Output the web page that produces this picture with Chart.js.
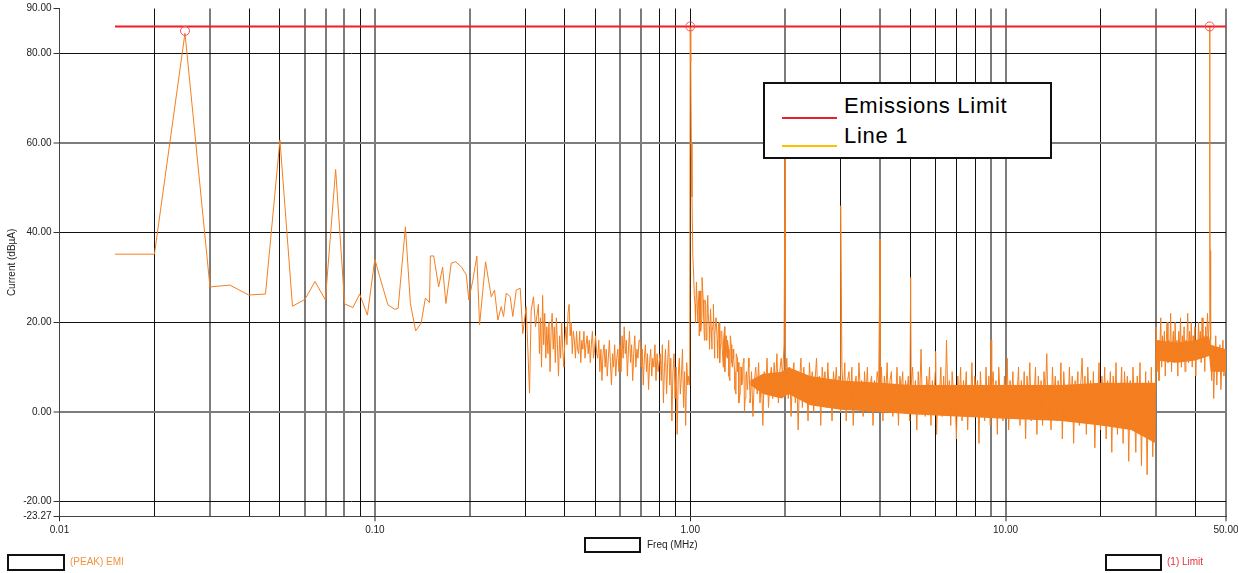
<!DOCTYPE html>
<html>
<head>
<meta charset="utf-8">
<script src="https://cdn.jsdelivr.net/npm/chart.js@4.4.1/dist/chart.umd.min.js"></script>
<style>
  html, body { margin:0; padding:0; background:#fff; }
  #wrap { position:relative; width:1238px; height:573px; overflow:hidden; }
  #c { position:absolute; left:0; top:0; }
  .box { position:absolute; box-sizing:border-box; border:2px solid #111; background:#fff; }
  .lbl { position:absolute; font-family:"Liberation Sans", Arial, sans-serif; font-size:10px; line-height:16px; height:16px; white-space:nowrap; }
  .lg { position:absolute; font-family:"Liberation Sans", Arial, sans-serif; font-size:22px; line-height:22px; letter-spacing:0.7px; color:#000; white-space:nowrap; }
</style>
</head>
<body>
<div id="wrap">
  <canvas id="c" width="1238" height="573"></canvas>

  <div class="box" style="left:763px;top:82px;width:289px;height:77px;"></div>
  <div style="position:absolute;left:782px;top:117px;width:55px;height:2px;background:#E8202A;"></div>
  <div style="position:absolute;left:782px;top:145px;width:55px;height:2px;background:#FFC000;"></div>
  <div class="lg" style="left:844px;top:95px;">Emissions Limit</div>
  <div class="lg" style="left:844px;top:125px;">Line 1</div>

  <div class="box" style="left:7px;top:554px;width:58px;height:17px;"></div>
  <div class="lbl" style="left:70px;top:554px;color:#F4923A;">(PEAK) EMI</div>
  <div class="box" style="left:584px;top:537px;width:57px;height:16px;"></div>
  <div class="lbl" style="left:647px;top:537px;color:#222;">Freq (MHz)</div>
  <div class="box" style="left:1105px;top:554px;width:57px;height:17px;"></div>
  <div class="lbl" style="left:1167px;top:554px;color:#E8303A;">(1) Limit</div>
</div>
<script>
// ---------------- data ----------------
const xTickValues = [0.01,0.02,0.03,0.04,0.05,0.06,0.07,0.08,0.09,
                     0.1,0.2,0.3,0.4,0.5,0.6,0.7,0.8,0.9,
                     1,2,3,4,5,6,7,8,9,
                     10,20,30,40,50];
const xLabelValues = [0.01,0.1,1,10,50];
const xGreyGrid = [0.03,0.06,0.07,0.08,0.1,0.2,0.6,0.7,2,4,9,10,30,50];
const yTickValues = [-23.27,-20,0,20,40,60,80,90];
const yGreyGrid = [60,0];

const limitFreq = [0.015, 50];
const limitLevel = [86, 86];

const peakFreq = [0.025, 1.0, 44.4];
const peakLevel = [85, 86, 86];

// resolved low-frequency part of the trace (MHz, dBµA)
const lowFreq = [0.015,0.02,0.025,0.03,0.0347,0.0398,0.045,0.05,0.0548,0.06,
                 0.0646,0.0697,0.0751,0.0802,0.0852,0.0895,0.0947,0.1,0.1036,0.110,
                 0.1156,0.1185,0.125,0.1296,0.1347,0.1402,0.1446,0.149,0.150,0.1537,
                 0.1593,0.164,0.168,0.1747,0.1803,0.1879,0.1949,0.1986,0.2045,0.2106,
                 0.2148,0.2244,0.2339,0.2396,0.2455,0.2516,0.2559,0.261,0.2687,0.2738,
                 0.2807,0.289,0.2945,0.302,0.3093,0.3131,0.3184,0.3231];
const lowLevel = [35.2,35.2,84.5,27.9,28.3,26.1,26.3,60.7,23.6,25.1,
                  29.1,25,54.1,24.1,23.3,26.3,21.6,34.1,30.2,23.9,
                  22.9,23.1,41.3,24.2,18.1,19.8,25.4,24.4,34.8,34.8,
                  27.9,32.3,24.2,33.2,33.5,32.4,30.6,25,29.4,34.8,
                  19.4,33.5,25.7,27.2,20.5,23.5,21.3,26.5,25.7,21.3,
                  27.2,27.6,17.5,23.5,4.2,22.7,25.7,19];

// sweep bins 0.33 – 0.99 MHz
const midRange = [0.33, 0.99];
const midLevel = [24,13,21,10,26,15,22,12,19,
  13,20,9,18,22,14,19,11,21,15,8,17,12,20,14,10,16,
  19,15,22,24,17,20,13,18,
  16,12,18,14,13,18,11,16,14,18,12,15,17,13,16,11,15,18,12,14,17,13,
  12,16,9,14,7,13,15,10,14,8,12,16,11,6,13,10,15,8,12,14,9,
  15,9,17,12,19,13,16,8,14,18,11,15,7,13,17,10,14,12,16,
  16,10,14,6,12,15,9,13,5,11,14,8,12,10,15,7,13,9,11,
  13,7,15,2,10,14,4,11,16,6,12,-2,9,13,3,10,-5,8,12,4,8,14,1,9,-3,11,6,8];

// extra sweep bins on the decay just above 1 MHz (1.03 – 1.55 MHz)
const decayRange = [1.03, 1.55];
const decayLevel = [26,20,29,23,17,27,21,25,16,24,19,22,14,23,18,20,12,21,16,19,11,18,14,16,9,
                    17,12,14,7,15,10,12,5,13,9,11,4,10,7,12,3,9,6,10,2];

// sweep bins 1.025 – 29.9 MHz
const denseRange = [1.025, 29.9];
const denseLevel = [
  31,24,29,20,27,18,30,22,25,16,26,19,23,14,24,17,21,12,20,15,18,10,19,13,16,8,17,11,14,
  9,4,12,2,10,6,11,0,8,5,12,3,9,-1,7,10,4,11,2,8,-3,9,5,12,1,7,10,3,11,6,13,2,9,12,8,
  15,7,12,3,10,-1,8,11,2,9,-4,7,12,1,10,4,8,-2,11,5,9,0,7,12,3,8,-3,10,6,9,1,11,4,7,-2,9,5,10,3,
  8,0,10,4,11,-2,7,9,2,10,-3,6,8,1,11,5,7,-1,9,3,10,0,6,8,-3,7,4,9,
  6,1,10,-2,8,4,11,0,7,9,-1,6,3,10,-3,8,5,9,0,7,4,
  8,-2,6,10,1,7,-4,9,3,14,0,6,-1,8,4,10,-3,7,2,9,
  -5,6,3,10,-1,8,0,16,2,7,-3,9,4,6,-6,8,1,10,-2,7,
  3,9,-4,6,1,11,-1,8,4,7,-7,9,2,6,-2,10,0,8,-3,5,
  9,1,7,-5,10,3,6,-2,8,0,12,-4,7,2,9,-1,6,4,10,-3,
  7,0,9,-6,8,2,11,-2,6,3,10,-5,8,1,7,-3,9,4,13,-1,
  6,-4,10,2,8,-2,7,1,11,-6,9,3,6,-1,10,0,8,-7,7,4,
  9,-3,6,12,0,8,-5,10,2,7,-2,9,-8,6,3,11,-4,8,1,10,
  -6,7,2,9,-9,8,0,11,-5,6,3,10,-7,9,1,8,-11,7,-4,10,
  2,-9,8,0,11,-12,6,-3,9,-14,7,-6,10,-10,5,4];

// sweep bins 30.05 – 44.25 MHz and 44.7 – 50 MHz
const band30Range = [30.05, 44.25];
const band30Level = [19,9,16,7,14,21,10,17,12,18,8,15,20,11,16,13,22,9,15,18,
                     11,20,12,16,8,18,14,21,10,17,13,19,9,16,15,22,11,18,14,20,
                     10,17,13,19,8,16,12,20,15,18,11,21,13,17,9,19,14,22,16,20];
const band45Range = [44.7, 50];
const band45Level = [16,7,14,3,12,17,6,13,9,15,5,11,16,8,13,10];

// narrow emission spikes
const spikeFreq = [0.996,1.0,1.004,1.008,1.013,1.019,2.0,3.0,4.0,5.0,6.0,9.0,44.4,44.45,44.5];
const spikeLevel = [6,86,78,60,48,35,57,46,38.5,30,13.5,16,86,49,36];

// solid part of the noise floor
const coreFreq = [1.55,1.7,1.95,2.05,2.4,3,4,5,7,10,15,20,25,29.9,30.0,35,40,44.2,44.7,50];
const coreHigh = [7,8.5,9,10,8,7,6.5,6,6,6,6,6.5,6.5,6.5,16,15.5,16,17,15,14];
const coreLow  = [6,4,3,4,1.5,0.5,0,-0.5,-1,-1.5,-2,-3,-4,-7,11.5,11,11.5,12.5,9,9];

// ---------------- build ----------------
function pairs(fs, vs){ return fs.map((f,i)=>({x:f, y:vs[i]})); }
function bins(range, vs){
  const n = vs.length, a = Math.log10(range[0]), b = Math.log10(range[1]);
  return vs.map((v,i)=>({x: Math.pow(10, a + (b-a)*i/(n-1)), y:v}));
}
const trace = [].concat(
  pairs(lowFreq, lowLevel),
  bins(midRange, midLevel),
  pairs(spikeFreq, spikeLevel),
  bins(decayRange, decayLevel),
  bins(denseRange, denseLevel),
  bins(band30Range, band30Level),
  bins(band45Range, band45Level)
).sort((p,q)=>p.x-q.x);

const ORANGE = '#F47F20';
const FONT = "'Liberation Sans', Arial, sans-serif";

new Chart(document.getElementById('c'), {
  type: 'line',
  data: {
    datasets: [
      { label:'Emissions Limit', data: pairs(limitFreq, limitLevel), borderColor:'#EE1D26', borderWidth:2,
        pointRadius:0, fill:false, order:1 },
      { label:'peaks', data: pairs(peakFreq, peakLevel), showLine:false, pointRadius:4.5,
        pointBorderColor:'#F0505A', pointBackgroundColor:'rgba(0,0,0,0)', pointBorderWidth:1, order:0 },
      { label:'Line 1', data: trace, borderColor:ORANGE, borderWidth:1, pointRadius:0, fill:false,
        tension:0, order:2 },
      { label:'coreHigh', data: pairs(coreFreq, coreHigh), borderWidth:0, borderColor:'rgba(0,0,0,0)',
        pointRadius:0, fill:false, order:3 },
      { label:'coreLow', data: pairs(coreFreq, coreLow), borderWidth:0, borderColor:'rgba(0,0,0,0)',
        pointRadius:0, fill:{target:3}, backgroundColor:ORANGE, order:3 }
    ]
  },
  options: {
    responsive:false, animation:false, devicePixelRatio:1,
    layout:{ padding:{ top:8.5, right:12, bottom:0, left:0 } },
    plugins:{ legend:{display:false}, tooltip:{enabled:false}, filler:{propagate:false} },
    scales:{
      x:{
        type:'logarithmic', min:0.01, max:50,
        afterBuildTicks: s => { s.ticks = xTickValues.map(v=>({value:v})); },
        afterFit: s => { s.height = 56.7; s.paddingLeft = 0; s.paddingRight = 0; },
        ticks:{ autoSkip:false, maxRotation:0, minRotation:0, padding:3, color:'#222',
                font:{family:FONT, size:10},
                callback: v => xLabelValues.includes(v) ? Number(v).toFixed(2) : '' },
        grid:{ tickLength:5,
               color: ctx => (ctx.tick && xGreyGrid.includes(ctx.tick.value)) ? '#7c7c7c' : '#111',
               lineWidth: ctx => (ctx.tick && xGreyGrid.includes(ctx.tick.value)) ? 2 : 1,
               tickColor: ctx => (ctx.tick && xLabelValues.includes(ctx.tick.value)) ? '#222' : 'rgba(0,0,0,0)',
               tickWidth: 1 },
        border:{ color:'#444', width:1 }
      },
      y:{
        type:'linear', min:-23.27, max:90,
        afterBuildTicks: s => { s.ticks = yTickValues.map(v=>({value:v})); },
        afterFit: s => { s.width = 59.5; s.paddingTop = 0; s.paddingBottom = 0; },
        ticks:{ autoSkip:false, padding:2, color:'#222', font:{family:FONT, size:10},
                callback: v => Number(v).toFixed(2) },
        grid:{ tickLength:6, tickColor:'#333', tickWidth:1,
               lineWidth: ctx => (ctx.tick && yGreyGrid.includes(ctx.tick.value)) ? 2 : 1,
               color: ctx => !ctx.tick ? '#111' : (ctx.tick.value === 90 ? 'rgba(0,0,0,0)' :
                              (yGreyGrid.includes(ctx.tick.value) ? '#7c7c7c' : '#111')) },
        border:{ color:'#444', width:1 },
        title:{ display:true, text:'Current (dBµA)', color:'#222', font:{family:FONT, size:10},
                padding:{top:6, bottom:0} }
      }
    }
  }
});
</script>
</body>
</html>
